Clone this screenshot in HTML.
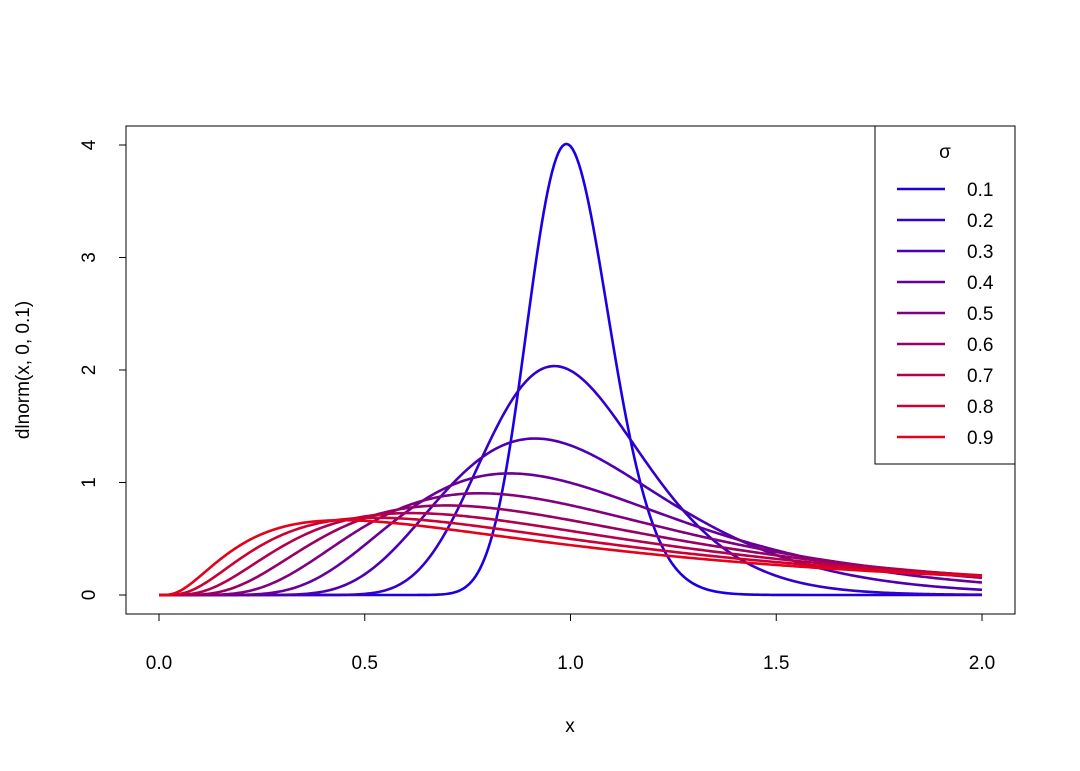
<!DOCTYPE html>
<html><head><meta charset="utf-8"><style>body{margin:0;background:#fff}svg{display:block;font-family:"Liberation Sans",sans-serif}</style></head>
<body>
<svg id="chart" width="1080" height="771" viewBox="0 0 1080 771">
<rect width="1080" height="771" fill="#fff"/>
<g id="axes"></g><g id="curves"></g><g id="legend"></g>
</svg>
<script>
const sigmas=[0.1,0.2,0.3,0.4,0.5,0.6,0.7,0.8,0.9];
const xTicks=[0,0.5,1,1.5,2];
const xTickLabels=["0.0","0.5","1.0","1.5","2.0"];
const yTicks=[0,1,2,3,4];
const yTickLabels=["0","1","2","3","4"];
const NS="http://www.w3.org/2000/svg";
const X=v=>159+v*411.5, Y=v=>595-v*112.5;
function mk(tag,attrs,parent,text){const e=document.createElementNS(NS,tag);for(const k in attrs)e.setAttribute(k,attrs[k]);if(text!=null)e.textContent=text;parent.appendChild(e);return e;}
function col(s){return `rgb(${Math.round(s*255)},0,${Math.round((1-s)*255)})`;}
function dln(x,s){if(x<=0)return 0;const l=Math.log(x);return Math.exp(-l*l/(2*s*s))/(x*s*Math.sqrt(2*Math.PI));}
const ax=document.getElementById('axes');
const box=mk('rect',{x:126,y:126,width:889,height:488,fill:'none',stroke:'#000','stroke-width':1},ax);


mk('line',{x1:X(0),x2:X(2),y1:614,y2:614,stroke:'#000'},ax);
xTicks.forEach((t,i)=>{mk('line',{x1:X(t),x2:X(t),y1:614,y2:621,stroke:'#000'},ax);
const tl=mk('text',{x:X(t),y:669,'font-size':19,'text-anchor':'middle'},ax,xTickLabels[i]);

});
yTicks.forEach((t,i)=>{mk('line',{x1:119,x2:126,y1:Y(t),y2:Y(t),stroke:'#000'},ax);
const tl=mk('text',{x:0,y:0,'font-size':19,'text-anchor':'middle',transform:`translate(95,${Y(t)}) rotate(-90)`},ax,yTickLabels[i]);

});
const xt=mk('text',{x:570,y:732,'font-size':19,'text-anchor':'middle'},ax,'x');


const yt=mk('text',{x:0,y:0,'font-size':19,'text-anchor':'middle',transform:'translate(29,370) rotate(-90)'},ax,'dlnorm(x, 0, 0.1)');


const cg=document.getElementById('curves');
sigmas.forEach(s=>{let d='';for(let i=0;i<=400;i++){const x=i*2/400;d+=(i?'L':'M')+X(x).toFixed(2)+','+Y(dln(x,s)).toFixed(2);}
const p=mk('path',{d,fill:'none',stroke:col(s),'stroke-width':2.6},cg);

});
const lg=document.getElementById('legend');
const lb=mk('rect',{x:875,y:126,width:140,height:338,fill:'#fff',stroke:'#000'},lg);


const lt=mk('text',{x:945,y:158,'font-size':19,'text-anchor':'middle'},lg,'σ');


sigmas.forEach((s,i)=>{const y=189+i*31;
const g=mk('g',{},lg);


mk('line',{x1:897,x2:945,y1:y,y2:y,stroke:col(s),'stroke-width':2.6},g);
mk('text',{x:967,y:y+7,'font-size':19},g,s.toFixed(1));});
</script>
</body></html>
